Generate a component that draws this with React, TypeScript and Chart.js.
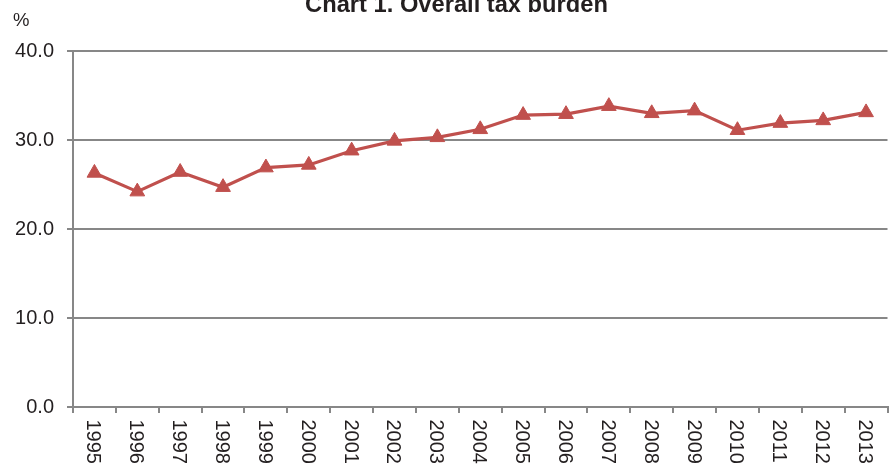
import React, { useEffect, useRef } from "react";
import { Chart, registerables } from "chart.js";

Chart.register(...registerables);

const TITLE = "Chart 1. Overall tax burden";
const UNIT_LABEL = "%";
const years = [
  "1995", "1996", "1997", "1998", "1999", "2000", "2001", "2002", "2003", "2004",
  "2005", "2006", "2007", "2008", "2009", "2010", "2011", "2012", "2013",
];
const taxBurden = [
  26.3, 24.2, 26.4, 24.7, 26.9, 27.2, 28.8, 29.9, 30.3, 31.2,
  32.8, 32.9, 33.8, 33.0, 33.3, 31.1, 31.9, 32.2, 33.1,
];
const yMin = 0;
const yMax = 40;
const yStep = 10;

const LINE_COLOR = "#C0504D";
const GRID_COLOR = "#878787";
const TEXT_COLOR = "#231F20";
const FONT = "'Liberation Sans', Arial, Helvetica, sans-serif";

export default function App() {
  const ref = useRef<HTMLCanvasElement>(null);

  useEffect(() => {
    document.body.style.margin = "0";
    document.body.style.overflow = "hidden";
    const canvas = ref.current;
    if (!canvas) return;

    const textPlugin = {
      id: "customTexts",
      afterDraw(chart: any) {
        const ctx = chart.ctx;
        const xs = chart.scales.x;
        ctx.save();
        ctx.fillStyle = TEXT_COLOR;
        // title
        ctx.font = `bold 23.7px ${FONT}`;
        ctx.textAlign = "center";
        ctx.textBaseline = "alphabetic";
        ctx.fillText(TITLE, 456.5, 12);
        // unit label
        ctx.font = `18.5px ${FONT}`;
        ctx.textAlign = "left";
        ctx.fillText(UNIT_LABEL, 13, 26);
        // x labels rotated clockwise
        ctx.font = `20px ${FONT}`;
        ctx.textAlign = "left";
        ctx.textBaseline = "middle";
        years.forEach((label, i) => {
          const px = xs.getPixelForValue(i) - 1.5;
          ctx.save();
          ctx.translate(px, 419.5);
          ctx.rotate(Math.PI / 2);
          ctx.fillText(label, 0, 0);
          ctx.restore();
        });
        ctx.restore();
      },
    };

    const chart = new Chart(canvas, {
      type: "line",
      data: {
        labels: years,
        datasets: [
          {
            label: "Overall tax burden",
            data: taxBurden,
            borderColor: LINE_COLOR,
            backgroundColor: LINE_COLOR,
            borderWidth: 3.2,
            tension: 0,
            pointStyle: "triangle",
            pointRadius: 8.5,
            pointBorderWidth: 1,
            pointBackgroundColor: LINE_COLOR,
            pointBorderColor: LINE_COLOR,
          },
        ],
      },
      options: {
        animation: false,
        responsive: false,
        maintainAspectRatio: false,
        layout: { padding: { top: 51, left: 0, right: 0, bottom: 0 } },
        plugins: {
          legend: { display: false },
          title: { display: false },
          tooltip: { enabled: false },
        },
        scales: {
          x: {
            type: "category",
            offset: true,
            grid: {
              offset: true,
              drawOnChartArea: false,
              drawTicks: true,
              tickLength: 6,
              color: GRID_COLOR,
              lineWidth: 2,
            },
            border: { display: true, color: GRID_COLOR, width: 2 },
            ticks: { display: false },
            afterFit: (s: any) => {
              s.height = 58;
            },
          },
          y: {
            min: yMin,
            max: yMax,
            grid: {
              drawOnChartArea: true,
              drawTicks: true,
              tickLength: 6,
              color: GRID_COLOR,
              lineWidth: 2,
            },
            border: { display: true, color: GRID_COLOR, width: 2 },
            ticks: {
              stepSize: yStep,
              padding: 13,
              color: TEXT_COLOR,
              font: { family: FONT, size: 20 },
              callback: (v: any) => Number(v).toFixed(1),
            },
            afterFit: (s: any) => {
              s.width = 73;
            },
          },
        },
      },
      plugins: [textPlugin],
    });

    return () => chart.destroy();
  }, []);

  return (
    <div
      style={{
        position: "fixed",
        left: 0,
        top: 0,
        width: 891,
        height: 465,
        overflow: "hidden",
        background: "#fff",
      }}
    >
      <canvas ref={ref} width={897} height={465} style={{ display: "block" }} />
    </div>
  );
}
